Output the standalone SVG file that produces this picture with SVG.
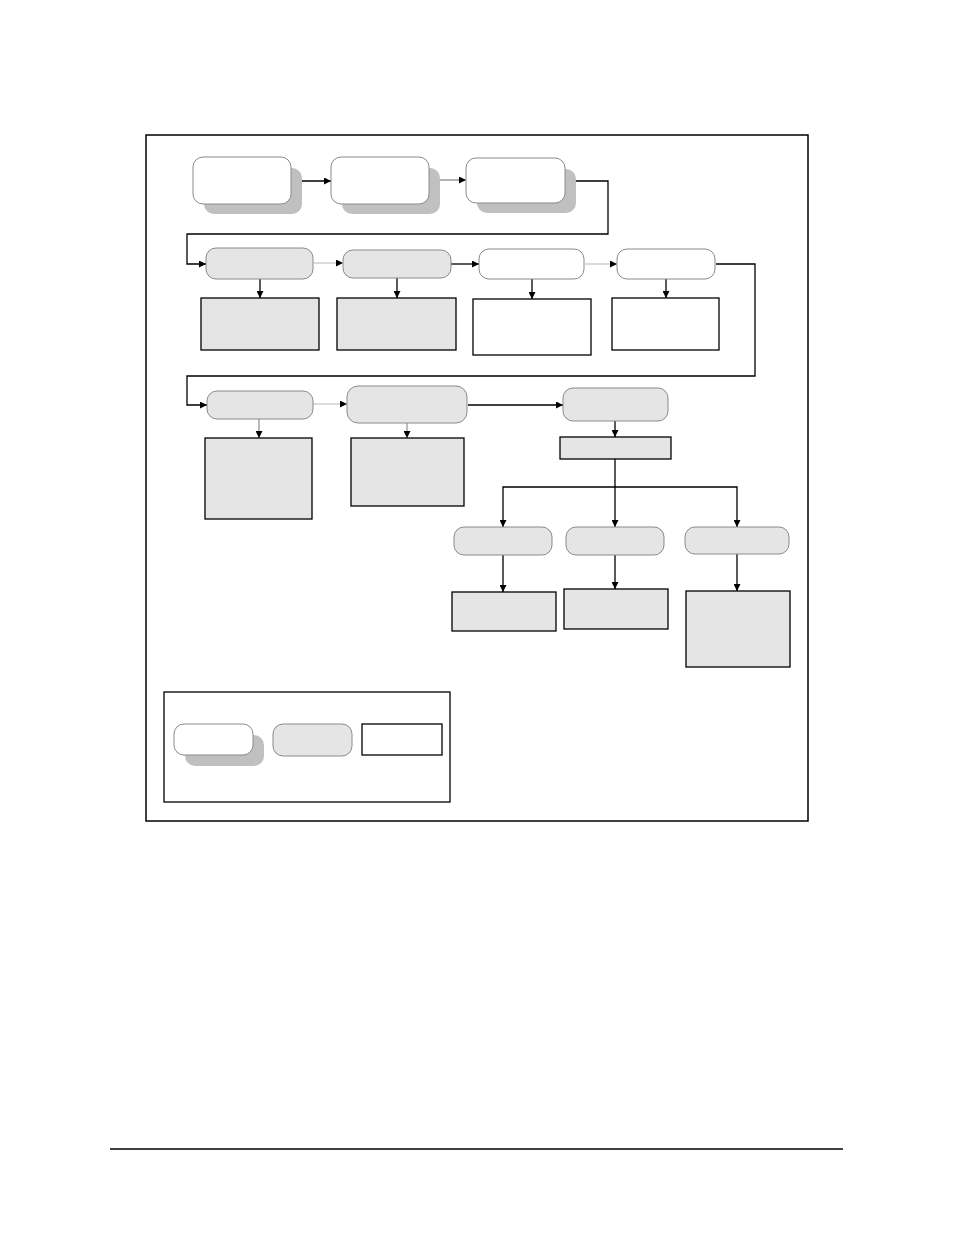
<svg xmlns="http://www.w3.org/2000/svg" width="954" height="1235" viewBox="0 0 954 1235">
<style>
.shadow{fill:#c0c0c0;stroke:none}
.rw{fill:#ffffff;stroke:#8a8a8a;stroke-width:1}
.rg{fill:#e5e5e5;stroke:#8a8a8a;stroke-width:1}
.bw{fill:#ffffff;stroke:#000;stroke-width:1.3}
.bg{fill:#e5e5e5;stroke:#000;stroke-width:1.3}
.c{fill:none;stroke:#000;stroke-width:1.3;marker-end:url(#ah)}
.cl{fill:none;stroke:#cfcfcf;stroke-width:1.5;marker-end:url(#ah)}
.cm{fill:none;stroke:#999;stroke-width:1.3;marker-end:url(#ah)}
</style>
<defs>
<marker id="ah" viewBox="0 0 10 10" refX="10" refY="5" markerWidth="7" markerHeight="7" markerUnits="userSpaceOnUse" orient="auto">
<path d="M0,0 L10,5 L0,10 z" fill="#000"/>
</marker>
</defs>
<rect width="954" height="1235" fill="#fff"/>
<rect id="frame" x="146" y="135" width="662" height="686" fill="none" stroke="#000" stroke-width="1.5"/>
<line id="footer-rule" x1="110" y1="1149" x2="843" y2="1149" stroke="#000" stroke-width="1.3"/>

<g id="connectors">
<line class="c" x1="292" y1="181" x2="331" y2="181"/>
<line class="cm" x1="430" y1="180" x2="466" y2="180"/>
<polyline class="c" points="566,181 608,181 608,234 187,234 187,264 206,264"/>
<line class="cl" x1="314" y1="263" x2="343" y2="263"/>
<line class="c" x1="451" y1="264" x2="479" y2="264"/>
<line class="cl" x1="585" y1="264" x2="617" y2="264"/>
<polyline class="c" points="716,264 755,264 755,376 187,376 187,405 207,405"/>
<line class="c" x1="260" y1="279" x2="260" y2="298"/>
<line class="c" x1="397" y1="278" x2="397" y2="298"/>
<line class="c" x1="532" y1="279" x2="532" y2="299"/>
<line class="c" x1="666" y1="279" x2="666" y2="298"/>
<line class="cl" x1="313" y1="404" x2="347" y2="404"/>
<line class="c" x1="468" y1="405" x2="563" y2="405"/>
<line class="cm" x1="259" y1="419" x2="259" y2="438"/>
<line class="cm" x1="407" y1="423" x2="407" y2="438"/>
<line class="c" x1="615" y1="421" x2="615" y2="437"/>
<line class="c" x1="615" y1="459" x2="615" y2="527"/>
<polyline class="c" points="615,487 503,487 503,527"/>
<polyline class="c" points="615,487 737,487 737,527"/>
<line class="c" x1="503" y1="555" x2="503" y2="592"/>
<line class="c" x1="615" y1="555" x2="615" y2="589"/>
<line class="c" x1="737" y1="554" x2="737" y2="591"/>
</g>

<g id="node-r1a"><rect class="shadow" x="204" y="168" width="98" height="46" rx="10"/><rect class="rw" x="193" y="157" width="98" height="47" rx="10"/></g>
<g id="node-r1b"><rect class="shadow" x="342" y="168" width="98" height="46" rx="10"/><rect class="rw" x="331" y="157" width="98" height="47" rx="10"/></g>
<g id="node-r1c"><rect class="shadow" x="477" y="169" width="99" height="44" rx="10"/><rect class="rw" x="466" y="158" width="99" height="45" rx="10"/></g>

<g id="node-r2a"><rect class="rg" x="206" y="248" width="107" height="31" rx="10"/></g>
<g id="node-r2b"><rect class="rg" x="343" y="250" width="108" height="28" rx="10"/></g>
<g id="node-r2c"><rect class="rw" x="479" y="249" width="105" height="30" rx="10"/></g>
<g id="node-r2d"><rect class="rw" x="617" y="249" width="98" height="30" rx="10"/></g>

<g id="node-b2a"><rect class="bg" x="201" y="298" width="118" height="52"/></g>
<g id="node-b2b"><rect class="bg" x="337" y="298" width="119" height="52"/></g>
<g id="node-b2c"><rect class="bw" x="473" y="299" width="118" height="56"/></g>
<g id="node-b2d"><rect class="bw" x="612" y="298" width="107" height="52"/></g>

<g id="node-r3a"><rect class="rg" x="207" y="391" width="106" height="28" rx="10"/></g>
<g id="node-r3b"><rect class="rg" x="347" y="386" width="120" height="37" rx="11"/></g>
<g id="node-r3c"><rect class="rg" x="563" y="388" width="105" height="33" rx="10"/></g>

<g id="node-b3a"><rect class="bg" x="205" y="438" width="107" height="81"/></g>
<g id="node-b3b"><rect class="bg" x="351" y="438" width="113" height="68"/></g>
<g id="node-b3c"><rect class="bg" x="560" y="437" width="111" height="22"/></g>

<g id="node-r4a"><rect class="rg" x="454" y="527" width="98" height="28" rx="10"/></g>
<g id="node-r4b"><rect class="rg" x="566" y="527" width="98" height="28" rx="10"/></g>
<g id="node-r4c"><rect class="rg" x="685" y="527" width="104" height="27" rx="10"/></g>

<g id="node-b4a"><rect class="bg" x="452" y="592" width="104" height="39"/></g>
<g id="node-b4b"><rect class="bg" x="564" y="589" width="104" height="40"/></g>
<g id="node-b4c"><rect class="bg" x="686" y="591" width="104" height="76"/></g>

<g id="legend">
<rect class="bw" x="164" y="692" width="286" height="110"/>
<rect class="shadow" x="185" y="735" width="79" height="31" rx="10"/>
<rect class="rw" x="174" y="724" width="79" height="31" rx="10"/>
<rect class="rg" x="273" y="724" width="79" height="32" rx="10"/>
<rect class="bw" x="362" y="724" width="80" height="31"/>
</g>
</svg>
